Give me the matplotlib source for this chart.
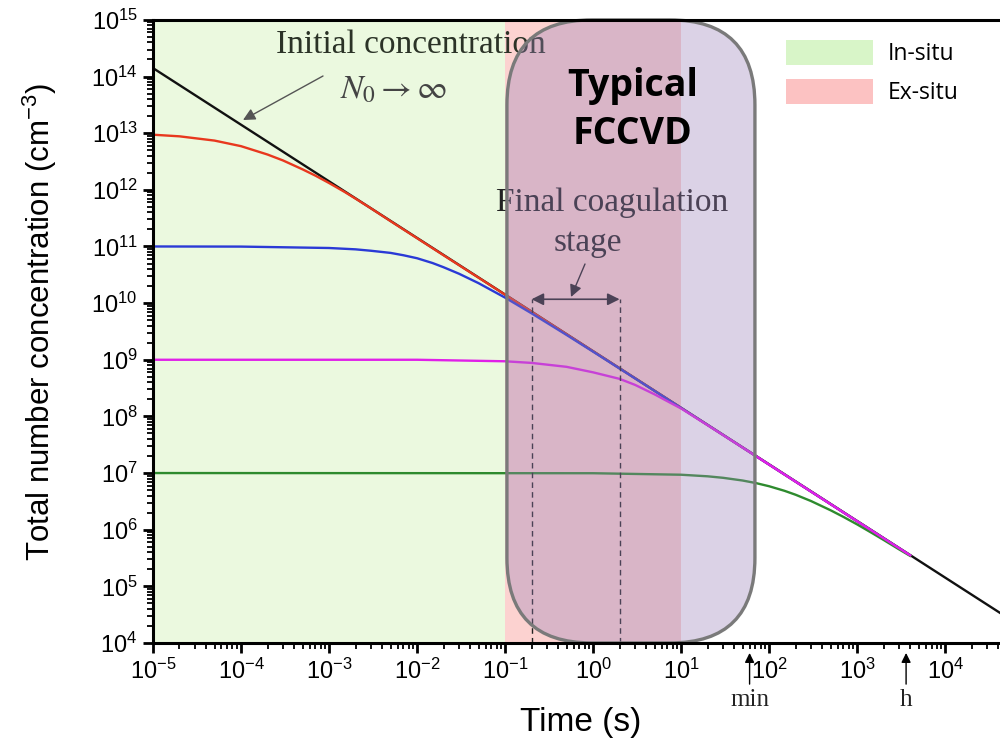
import matplotlib
matplotlib.use('Agg')
import matplotlib.pyplot as plt
import numpy as np
from matplotlib.patches import FancyBboxPatch, Patch
from matplotlib.transforms import IdentityTransform
from matplotlib.ticker import LogLocator, FuncFormatter, NullFormatter

plt.rcParams['font.family'] = ['Liberation Sans', 'DejaVu Sans']

# values
t_black = [1e-5, 4.2e4]
n_black = [1.41e14, 3.4e4]

t_red = [1e-5, 2e-5, 5e-5, 1e-4, 2e-4, 3e-4, 5e-4, 7e-4, 1e-3, 1.5e-3, 2e-3, 3e-3,
         5e-3, 1e-2, 2e-2, 5e-2, 0.1, 0.2, 1, 10, 100, 1000, 4000]
n_red = [9.4e12, 8.8e12, 7.4e12, 5.9e12, 4.2e12, 3.3e12, 2.3e12, 1.78e12, 1.32e12, 9.2e11, 7.0e11, 4.7e11,
         2.8e11, 1.4e11, 7.0e10, 2.81e10, 1.41e10, 7.05e9, 1.41e9, 1.41e8, 1.41e7, 1.41e6, 3.53e5]

t_blue = [1e-5, 1e-4, 1e-3, 2e-3, 3e-3, 5e-3, 7e-3, 1e-2, 1.5e-2, 2e-2, 3e-2, 5e-2,
          0.1, 0.2, 0.5, 1, 2, 5, 10, 100, 1000, 4000]
n_blue = [1.0e11, 9.95e10, 9.4e10, 8.9e10, 8.4e10, 7.7e10, 7.0e10, 6.2e10, 5.1e10, 4.3e10, 3.3e10, 2.25e10,
          1.25e10, 6.6e9, 2.74e9, 1.39e9, 7.0e8, 2.81e8, 1.41e8, 1.41e7, 1.41e6, 3.53e5]

t_magenta = [1e-5, 1e-2, 0.1, 0.2, 0.5, 1, 2, 3, 5, 7, 10, 20, 50, 100, 1000, 4000]
n_magenta = [1.0e9, 1.0e9, 9.4e8, 8.8e8, 7.5e8, 6.0e8, 4.6e8, 3.6e8, 2.45e8, 1.85e8, 1.38e8, 7.0e7, 2.82e7,
             1.41e7, 1.41e6, 3.53e5]

t_green = [1e-5, 1, 10, 20, 30, 50, 70, 100, 150, 200, 300, 500, 700, 1000, 1500, 2000, 3000, 4000]
n_green = [1.0e7, 9.93e6, 9.34e6, 8.76e6, 8.24e6, 7.38e6, 6.68e6, 5.85e6, 4.85e6, 4.14e6, 3.2e6, 2.2e6,
           1.68e6, 1.24e6, 8.6e5, 6.59e5, 4.49e5, 3.45e5]

insitu_span = (1e-5, 0.1)
exsitu_span = (0.1, 10)
fccvd_span = (0.105, 69)
stage_span = (0.2, 2)

W, H = 1000, 748


def fp(x, y):
    # pixel position (from top-left) -> figure fraction
    return (x / W, 1 - y / H)


fig = plt.figure(figsize=(10, 7.48), dpi=100)
ax = fig.add_axes([0.153, 0.1404, 0.847, 0.833])
ax.set_xscale('log')
ax.set_yscale('log')
ax.set_xlim(1e-5, 4.2e4)
ax.set_ylim(1e4, 1e15)

ax.axvspan(*insitu_span, color='#ebf9df', lw=0, zorder=0)
ax.axvspan(*exsitu_span, color='#fcd2d0', lw=0, zorder=0)

ax.plot(t_black, n_black, color='#111111', lw=1.7, zorder=2)
ax.plot(t_red, n_red, color='#e8381e', lw=1.7, zorder=2)
ax.plot(t_blue, n_blue, color='#2a3ad6', lw=1.7, zorder=2)
ax.plot(t_green, n_green, color='#2e8b2e', lw=1.7, zorder=2)
ax.plot(t_magenta, n_magenta, color='#e020e8', lw=1.7, zorder=2)

# annotations (sit under the translucent box)
ax.text(*fp(411, 45), 'Initial concentration', transform=fig.transFigure, ha='center', va='center',
        family='Liberation Serif', fontsize=24, color='#2b3327', zorder=2.1)
ax.text(*fp(394, 90), r'$N_0 \rightarrow \infty$', transform=fig.transFigure, ha='center', va='center',
        math_fontfamily='stix', fontsize=24, color='#444444', zorder=2.1)
ax.annotate('', xy=fp(243, 120), xytext=fp(323, 76), xycoords='figure fraction',
            arrowprops=dict(arrowstyle='-|>', color='#555555', lw=1.0, mutation_scale=18,
                            shrinkA=0, shrinkB=0), zorder=2.1)

ax.text(*fp(612, 203), 'Final coagulation', transform=fig.transFigure, ha='center', va='center',
        family='Liberation Serif', fontsize=24, color='#222222', zorder=2.1)
ax.text(*fp(588, 243), 'stage', transform=fig.transFigure, ha='center', va='center',
        family='Liberation Serif', fontsize=24, color='#222222', zorder=2.1)
ax.annotate('', xy=fp(571, 297), xytext=fp(585, 264), xycoords='figure fraction',
            arrowprops=dict(arrowstyle='-|>', color='#222222', lw=1.0, mutation_scale=18,
                            shrinkA=0, shrinkB=0), zorder=2.1)
y_stage = 1.17e10
ax.annotate('', xy=(stage_span[1], y_stage), xytext=(stage_span[0], y_stage),
            arrowprops=dict(arrowstyle='<|-|>', color='#222222', lw=1.2, mutation_scale=18,
                            shrinkA=0, shrinkB=0), zorder=2.1)
ax.vlines(stage_span, 1e4, y_stage, colors='#222222', linestyles=(0, (4, 3)), lw=1.0, zorder=2.1)

# rounded "typical FCCVD" box, built in pixels so corners stay round
x0 = ax.transData.transform((fccvd_span[0], 1e10))[0]
x1 = ax.transData.transform((fccvd_span[1], 1e10))[0]
y0 = ax.transAxes.transform((0, 0))[1]
y1 = ax.transAxes.transform((0, 1))[1]
box = FancyBboxPatch((x0, y0), x1 - x0, y1 - y0, boxstyle='round,pad=0,rounding_size=85',
                     transform=IdentityTransform(), facecolor='#9a80b8', alpha=0.35,
                     edgecolor='none', zorder=2.3, clip_on=False)
ax.add_patch(box)
edge = FancyBboxPatch((x0, y0), x1 - x0, y1 - y0, boxstyle='round,pad=0,rounding_size=85',
                      transform=IdentityTransform(), facecolor='none',
                      edgecolor='#7a7a7a', lw=2.4, zorder=2.35, clip_on=False)
ax.add_patch(edge)
ax.text(*fp(633, 86), 'Typical', transform=fig.transFigure, ha='center', va='center',
        family='Open Sans', fontweight='bold', fontsize=27, color='black', zorder=5)
ax.text(*fp(633, 134), 'FCCVD', transform=fig.transFigure, ha='center', va='center',
        family='Open Sans', fontweight='bold', fontsize=27, color='black', zorder=5)

# time markers under the axis
xax = ax.get_xaxis_transform()
for tm, lab in [(60, 'min'), (3600, 'h')]:
    ax.annotate('', xy=(tm, -0.016), xytext=(tm, -0.066), xycoords=xax,
                arrowprops=dict(arrowstyle='-|>', color='black', lw=1.0, mutation_scale=14,
                                shrinkA=0, shrinkB=0), annotation_clip=False)
    ax.text(tm, -0.092, lab, transform=xax, ha='center', va='center',
            family='Liberation Serif', fontsize=18, color='#222222')

# legend
handles = [Patch(facecolor='#d8f5c8', edgecolor='none'), Patch(facecolor='#fcc2c2', edgecolor='none')]
ax.legend(handles, ['In-situ', 'Ex-situ'], loc='upper left', bbox_to_anchor=fp(786, 40),
          bbox_transform=fig.transFigure, frameon=False, borderpad=0, borderaxespad=0,
          handlelength=3.8, handleheight=1.3, handletextpad=0.65, labelspacing=0.55,
          prop={'family': 'Open Sans', 'size': 16.5})

# axes styling
fmt = FuncFormatter(lambda v, p: r'$\mathregular{10^{%d}}$' % int(round(np.log10(v))))
for axis in (ax.xaxis, ax.yaxis):
    axis.set_major_locator(LogLocator(base=10, numticks=30))
    axis.set_minor_locator(LogLocator(base=10, subs=np.arange(2, 10), numticks=30))
    axis.set_major_formatter(fmt)
    axis.set_minor_formatter(NullFormatter())
ax.tick_params(which='major', direction='out', length=7, width=2.0, labelsize=17, pad=4)
ax.tick_params(which='minor', direction='out', length=4, width=1.3)
ax.tick_params(top=False, right=False)
for s in ('left', 'bottom', 'top'):
    ax.spines[s].set_linewidth(2.2)
ax.spines['right'].set_visible(False)

fig.text(*fp(581, 722), 'Time (s)', ha='center', va='center', fontsize=24)
fig.text(*fp(40, 322), r'Total number concentration (cm$\mathregular{^{-3}}$)', ha='center', va='center',
         rotation=90, fontsize=22.5)

fig.savefig('out.png', dpi=100)
